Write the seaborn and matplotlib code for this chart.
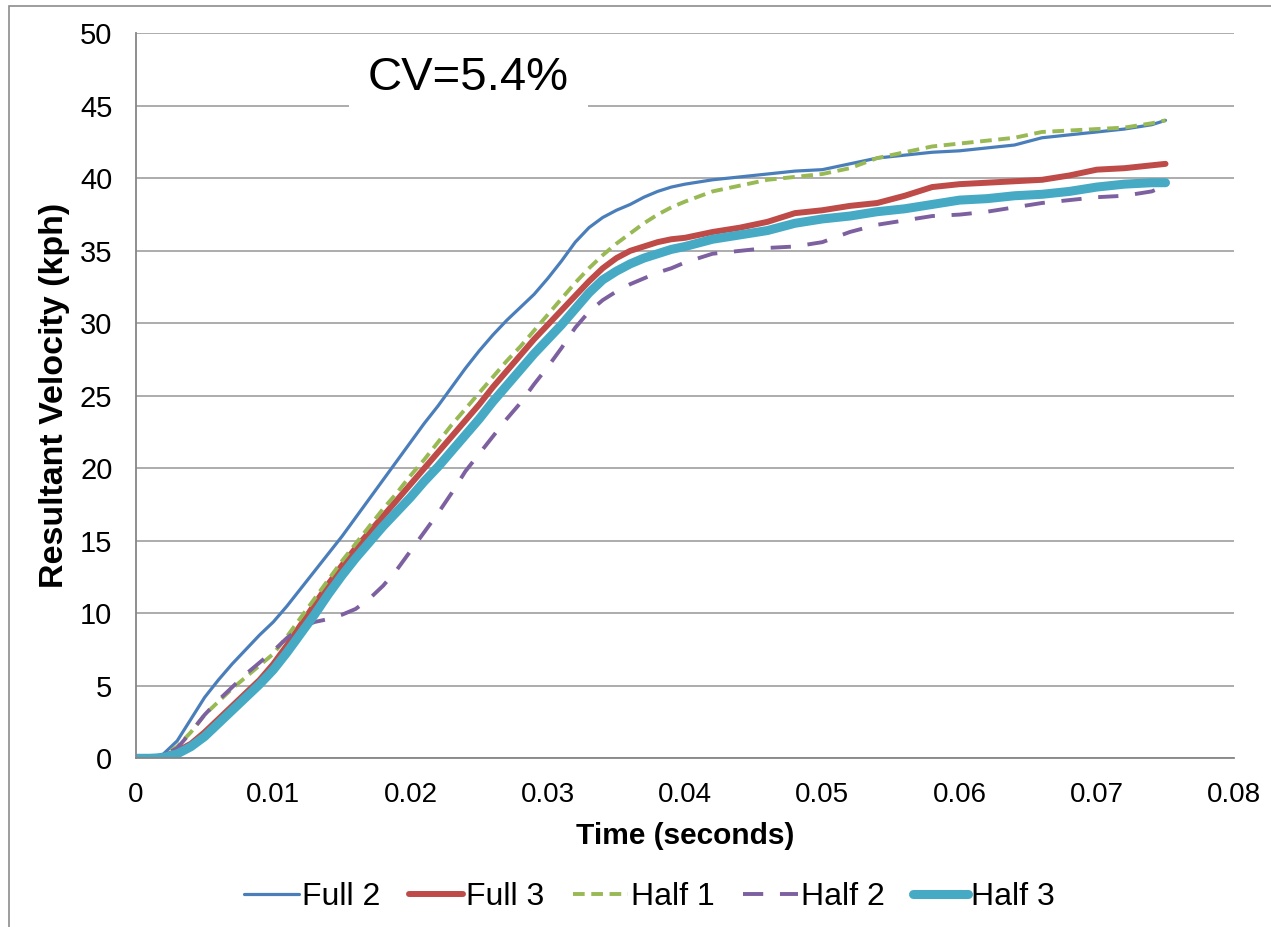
"""
plot.py
-------
Resultant velocity vs. time for five trials (Full 2/3, Half 1/2/3),
drawn with seaborn line plots in an Excel-like style.
"""

import matplotlib

matplotlib.use("Agg")
import matplotlib.pyplot as plt
import pandas as pd
import seaborn as sns
from matplotlib.patches import Rectangle

# ----------------------------------------------------------------------
# Data
# ----------------------------------------------------------------------

time_s = [
    0.000, 0.001, 0.002, 0.003, 0.004, 0.005, 0.006, 0.007, 0.008, 0.009,
    0.010, 0.011, 0.012, 0.013, 0.014, 0.015, 0.016, 0.017, 0.018, 0.019,
    0.020, 0.021, 0.022, 0.023, 0.024, 0.025, 0.026, 0.027, 0.028, 0.029,
    0.030, 0.031, 0.032, 0.033, 0.034, 0.035, 0.036, 0.037, 0.038, 0.039,
    0.040, 0.042, 0.044, 0.046, 0.048, 0.050, 0.052, 0.054, 0.056, 0.058,
    0.060, 0.062, 0.064, 0.066, 0.068, 0.070, 0.072, 0.074, 0.075,
]

full_2 = [
    0, 0.05, 0.3, 1.2, 2.7, 4.2, 5.4, 6.5, 7.5, 8.5,
    9.4, 10.5, 11.7, 12.9, 14.1, 15.3, 16.6, 17.9, 19.2, 20.5,
    21.8, 23.1, 24.3, 25.6, 26.9, 28.1, 29.2, 30.2, 31.1, 32.0,
    33.1, 34.3, 35.6, 36.6, 37.3, 37.8, 38.2, 38.7, 39.1, 39.4,
    39.6, 39.9, 40.1, 40.3, 40.5, 40.6, 41.0, 41.4, 41.6, 41.8,
    41.9, 42.1, 42.3, 42.8, 43.0, 43.2, 43.4, 43.7, 44.0,
]

full_3 = [
    0, 0, 0.1, 0.5, 1.0, 1.8, 2.7, 3.6, 4.5, 5.4,
    6.5, 7.8, 9.2, 10.6, 12.0, 13.3, 14.5, 15.6, 16.7, 17.8,
    18.9, 20.0, 21.1, 22.2, 23.3, 24.4, 25.6, 26.7, 27.8, 28.9,
    29.9, 30.9, 31.9, 32.9, 33.8, 34.5, 35.0, 35.3, 35.6, 35.8,
    35.9, 36.3, 36.6, 37.0, 37.6, 37.8, 38.1, 38.3, 38.8, 39.4,
    39.6, 39.7, 39.8, 39.9, 40.2, 40.6, 40.7, 40.9, 41.0,
]

half_1 = [
    0, 0, 0.2, 0.8, 1.8, 3.0, 3.9, 4.8, 5.6, 6.4,
    7.2, 8.4, 9.7, 11.0, 12.3, 13.6, 14.8, 16.0, 17.2, 18.3,
    19.5, 20.6, 21.8, 23.0, 24.1, 25.2, 26.3, 27.4, 28.4, 29.5,
    30.6, 31.7, 32.8, 33.8, 34.7, 35.5, 36.2, 36.9, 37.5, 38.0,
    38.4, 39.1, 39.5, 39.9, 40.1, 40.3, 40.7, 41.4, 41.8, 42.2,
    42.4, 42.6, 42.8, 43.2, 43.3, 43.4, 43.5, 43.8, 44.0,
]

half_2 = [
    0, 0, 0.2, 0.7, 1.8, 3.0, 4.0, 4.9, 5.8, 6.6,
    7.4, 8.3, 9.0, 9.4, 9.6, 9.9, 10.3, 11.0, 11.9, 13.0,
    14.3, 15.6, 16.9, 18.3, 19.8, 21.0, 22.2, 23.4, 24.5, 25.8,
    27.0, 28.3, 29.7, 30.8, 31.6, 32.2, 32.7, 33.1, 33.5, 33.8,
    34.2, 34.8, 35.0, 35.2, 35.3, 35.6, 36.3, 36.8, 37.1, 37.4,
    37.5, 37.7, 38.0, 38.3, 38.5, 38.7, 38.8, 39.1, 39.5,
]

half_3 = [
    0, 0, 0.05, 0.3, 0.8, 1.5, 2.4, 3.3, 4.2, 5.1,
    6.1, 7.3, 8.6, 9.9, 11.3, 12.6, 13.8, 14.9, 16.0, 17.0,
    18.0, 19.1, 20.1, 21.2, 22.3, 23.4, 24.6, 25.7, 26.8, 27.9,
    28.9, 29.9, 31.0, 32.1, 33.0, 33.6, 34.1, 34.5, 34.8, 35.1,
    35.3, 35.8, 36.1, 36.4, 36.9, 37.2, 37.4, 37.7, 37.9, 38.2,
    38.5, 38.6, 38.8, 38.9, 39.1, 39.4, 39.6, 39.7, 39.7,
]

series_names = ["Full 2", "Full 3", "Half 1", "Half 2", "Half 3"]
x_ticks = [0, 0.01, 0.02, 0.03, 0.04, 0.05, 0.06, 0.07, 0.08]
x_tick_labels = ["0", "0.01", "0.02", "0.03", "0.04", "0.05", "0.06", "0.07", "0.08"]
y_ticks = [0, 5, 10, 15, 20, 25, 30, 35, 40, 45, 50]
cv_label = "CV=5.4%"

# Excel 2007 palette and line styling per series
STYLES = {
    "Full 2": dict(color="#4A7EBB", lw=2.3, ls="-"),
    "Full 3": dict(color="#BE4B48", lw=4.3, ls="-"),
    "Half 1": dict(color="#98B954", lw=2.8, ls=(0, (3.0, 1.7))),
    "Half 2": dict(color="#7D60A0", lw=2.8, ls=(0, (5.2, 4.3))),
    "Half 3": dict(color="#46AAC5", lw=6.5, ls="-"),
}

GRID_GREY = "#A6A6A6"
AXIS_GREY = "#868686"


def main() -> None:
    sns.set_theme(style="white")
    plt.rcParams["font.family"] = ["Liberation Sans", "DejaVu Sans"]
    plt.rcParams["text.color"] = "black"
    plt.rcParams["axes.labelcolor"] = "black"
    plt.rcParams["xtick.color"] = "black"
    plt.rcParams["ytick.color"] = "black"

    df = pd.DataFrame(
        {
            "time": time_s,
            "Full 2": full_2,
            "Full 3": full_3,
            "Half 1": half_1,
            "Half 2": half_2,
            "Half 3": half_3,
        }
    )
    long_df = df.melt(id_vars="time", var_name="series", value_name="velocity")

    fig = plt.figure(figsize=(12.71, 9.27), dpi=100)
    ax = fig.add_axes([0.107, 0.182, 0.864, 0.782])

    for name in series_names:
        st = STYLES[name]
        sub = long_df[long_df["series"] == name]
        sns.lineplot(
            data=sub,
            x="time",
            y="velocity",
            ax=ax,
            color=st["color"],
            linewidth=st["lw"],
            linestyle=st["ls"],
            estimator=None,
            errorbar=None,
            sort=False,
            label=name,
            solid_capstyle="round",
            dash_capstyle="butt",
        )

    ax.set_xlim(0, 0.08)
    ax.set_ylim(0, 50)
    ax.set_xticks(x_ticks)
    ax.set_xticklabels(x_tick_labels)
    ax.set_yticks(y_ticks)

    ax.yaxis.grid(True, color=GRID_GREY, linewidth=1.3)
    ax.xaxis.grid(False)
    ax.set_axisbelow(True)

    for side in ("top", "right"):
        ax.spines[side].set_visible(False)
    for side in ("left", "bottom"):
        ax.spines[side].set_color(AXIS_GREY)
        ax.spines[side].set_linewidth(1.3)

    ax.tick_params(axis="both", which="major", labelcolor="black",
                   length=7, width=1.1, color=AXIS_GREY, direction="out")
    ax.tick_params(axis="x", labelsize=20, pad=10)
    ax.tick_params(axis="y", labelsize=21, pad=10)

    ax.set_xlabel("Time (seconds)", fontsize=21.5, fontweight="bold", labelpad=10)
    ax.set_ylabel("Resultant Velocity (kph)", fontsize=24.5, fontweight="bold", labelpad=7)

    # CV annotation with a white box that masks the gridline behind it
    ax.text(0.0242, 46.9, cv_label, fontsize=34, ha="center", va="center",
            bbox=dict(boxstyle="square,pad=0.4", facecolor="white", edgecolor="none"),
            zorder=5)

    ax.get_legend().remove()
    handles, labels = ax.get_legend_handles_labels()
    fig.legend(handles, labels, loc="center", bbox_to_anchor=(0.511, 0.032), ncol=5,
               frameon=False, fontsize=23, handlelength=1.7, handletextpad=0.1,
               columnspacing=0.9)

    # Thin grey chart-area border (Excel chart frame)
    fig.patches.append(
        Rectangle((9 / 1271, -0.1), 1.2, 1.1 - 6 / 927, transform=fig.transFigure,
                  fill=False, edgecolor="#8C8C8C", linewidth=1.2)
    )

    fig.savefig("out.png", dpi=100, facecolor="white")
    plt.close(fig)


if __name__ == "__main__":
    main()
